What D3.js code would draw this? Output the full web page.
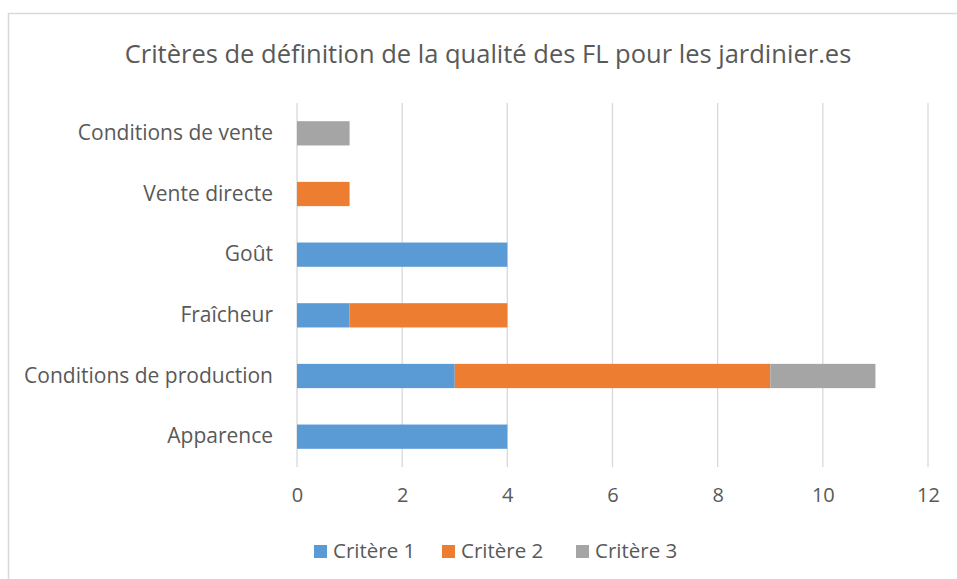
<!DOCTYPE html>
<html>
<head>
<meta charset="utf-8">
<script src="https://cdn.jsdelivr.net/npm/d3@7"></script>
<style>
  body { margin: 0; background: #fff; }
  text { font-family: "Open Sans", "Noto Sans", sans-serif; fill: #595959; }
</style>
</head>
<body>
<svg id="chart" width="957" height="579"></svg>
<script>
// categories, bottom to top as in the reference
var categories = ['Apparence', 'Conditions de production', 'Fraîcheur', 'Goût', 'Vente directe', 'Conditions de vente'];
var seriesNames = ['Critère 1', 'Critère 2', 'Critère 3'];
var critere1 = [4, 3, 1, 4, 0, 0];
var critere2 = [0, 6, 3, 0, 1, 0];
var critere3 = [0, 2, 0, 0, 0, 1];
var xTicks = [0, 2, 4, 6, 8, 10, 12];
var colours = ['#5b9bd5', '#ed7d31', '#a5a5a5'];
var title = 'Critères de définition de la qualité des FL pour les jardinier.es';

var svg = d3.select('#chart');

// outer chart border
svg.append('rect')
	.attr('x', 8.5).attr('y', 13.5)
	.attr('width', 980).attr('height', 600)
	.attr('fill', 'none').attr('stroke', '#d9d9d9').attr('stroke-width', 1.5);

svg.append('text')
	.attr('x', 488).attr('y', 63)
	.attr('text-anchor', 'middle')
	.style('font-size', '25.5px')
	.text(title);

var plotLeft = 297, plotRight = 928, plotTop = 103, plotBottom = 467;

var x = d3.scaleLinear().domain([0, 12]).range([plotLeft, plotRight]);
var y = d3.scaleBand().domain(categories.slice().reverse()).range([plotTop, plotBottom]).paddingInner(0.6).paddingOuter(0.3);

// gridlines
svg.append('g').selectAll('line').data(xTicks).enter().append('line')
	.attr('x1', d => x(d)).attr('x2', d => x(d))
	.attr('y1', plotTop).attr('y2', plotBottom)
	.attr('stroke', '#d9d9d9').attr('stroke-width', 1.3);

// stack the series
var rows = categories.map(function(c, i) {
	return { cat: c, 'Critère 1': critere1[i], 'Critère 2': critere2[i], 'Critère 3': critere3[i] };
});
var stacked = d3.stack().keys(seriesNames)(rows);

svg.append('g').selectAll('g').data(stacked).enter().append('g')
	.attr('fill', (d, i) => colours[i])
	.selectAll('rect').data(d => d.filter(s => s[1] > s[0])).enter().append('rect')
	.attr('x', d => x(d[0]))
	.attr('width', d => x(d[1]) - x(d[0]))
	.attr('y', d => y(d.data.cat))
	.attr('height', y.bandwidth());

// y axis labels
var yAxis = d3.axisLeft(y).tickSize(0).tickPadding(24);
var gy = svg.append('g').attr('transform', 'translate(' + plotLeft + ',0)').call(yAxis);
gy.select('.domain').remove();
gy.selectAll('text').style('font-size', '21px').attr('fill', '#595959');

// x axis labels
var xAxis = d3.axisBottom(x).tickValues(xTicks).tickSize(0).tickPadding(21);
var gx = svg.append('g').attr('transform', 'translate(0,' + plotBottom + ')').call(xAxis);
gx.select('.domain').remove();
gx.selectAll('text').style('font-size', '20px').attr('fill', '#595959');

// legend
var legendX = [314, 442, 576];
var lg = svg.append('g').selectAll('g').data(seriesNames).enter().append('g')
	.attr('transform', (d, i) => 'translate(' + legendX[i] + ',545)');
lg.append('rect').attr('width', 13).attr('height', 13).attr('fill', (d, i) => colours[i]);
lg.append('text').attr('x', 19).attr('y', 13).style('font-size', '20.5px').text(d => d);
</script>
</body>
</html>
